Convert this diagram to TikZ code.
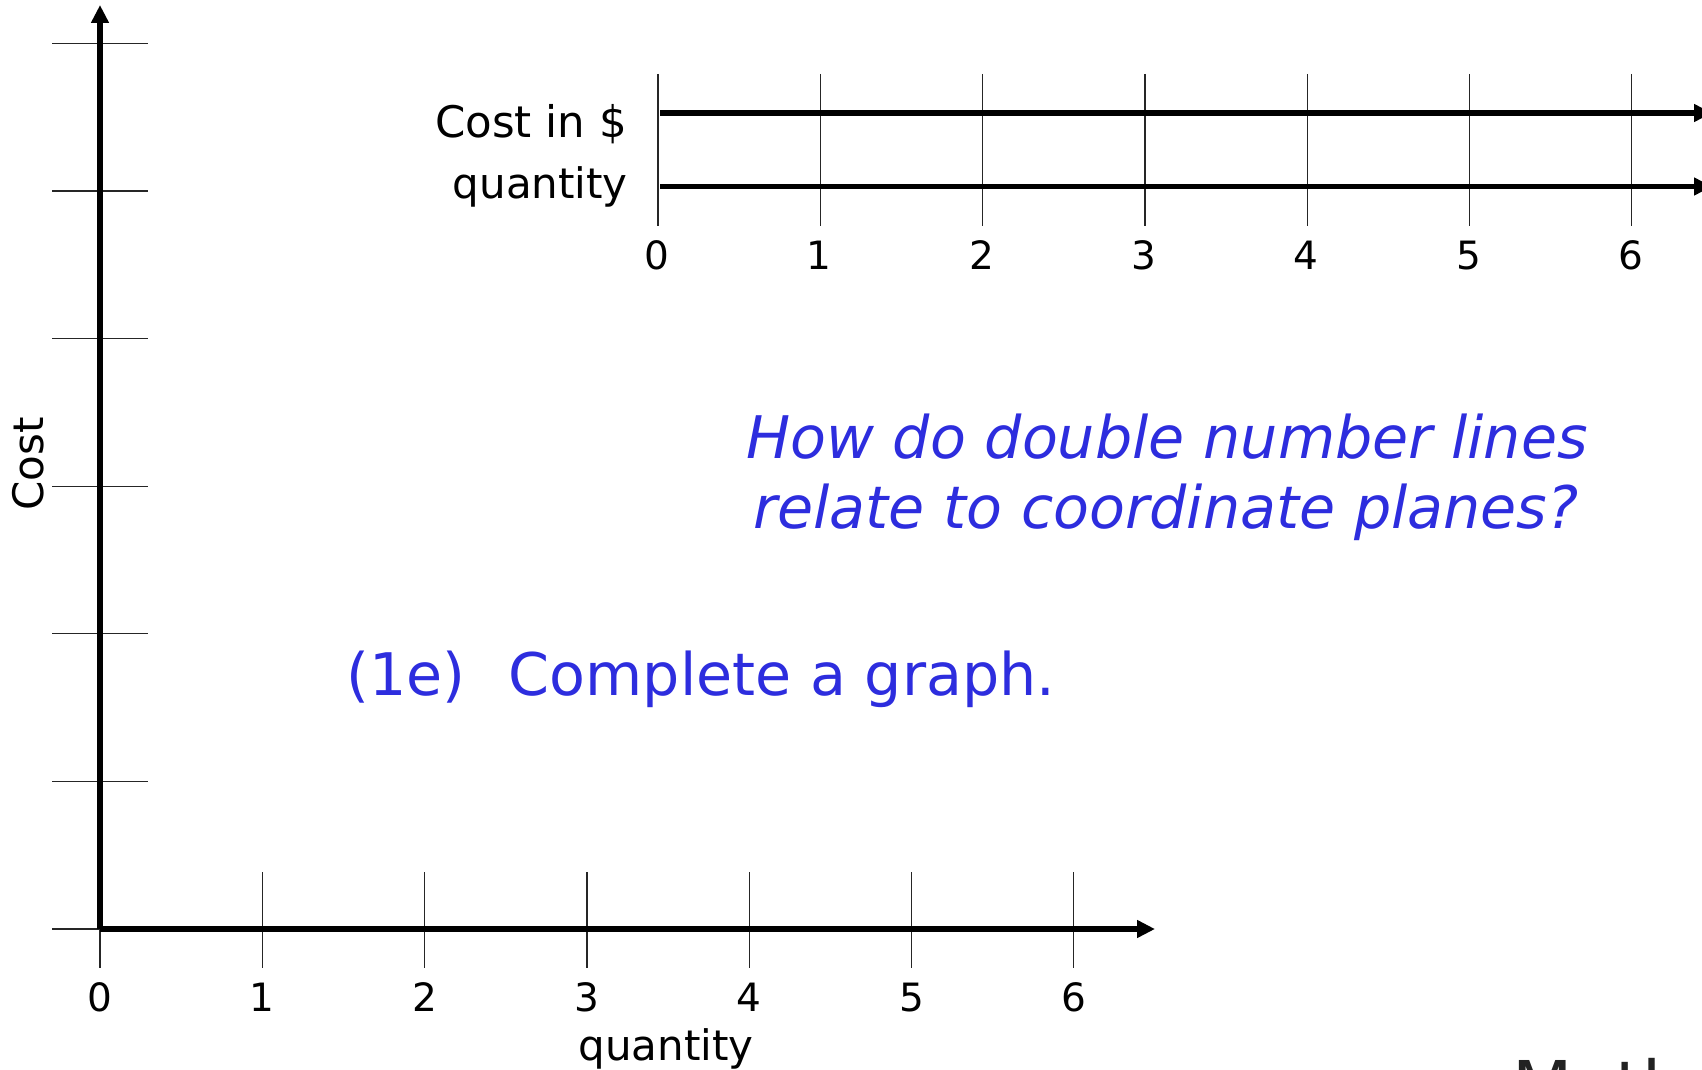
\documentclass[tikz,border=0pt]{standalone}
\usepackage{fontspec}
\setmainfont{DejaVu Sans}
\usetikzlibrary{arrows.meta}
\definecolor{qblue}{RGB}{45,45,222}
\definecolor{mathgray}{RGB}{34,34,34}
\begin{document}
\begin{tikzpicture}[x=1pt,y=-1pt,
  axisline/.style={line width=5.5pt,-{Triangle[length=18pt,width=17pt]}},
  numline/.style={line width=5.5pt,-{Triangle[length=18pt,width=17pt]}},
  tickline/.style={line width=1.3pt,draw=black!85},
  ticklab/.style={anchor=base,inner sep=0pt,font=\fontsize{39}{46}\selectfont},
  lab/.style={inner sep=0pt,font=\fontsize{42}{50}\selectfont},
  bluetxt/.style={inner sep=0pt,text=qblue}
]
\useasboundingbox (0,0) rectangle (1702,1070);
% ---- coordinate plane ----
\coordinate (O) at (100,929);
\coordinate (ytop) at (100,5);
\coordinate (xend) at (1155,929);
% horizontal grid ticks on y-axis
\foreach \i in {0,...,6} {
  \coordinate (yl\i) at (52,{929-147.6*\i});
  \coordinate (yr\i) at (148,{929-147.6*\i});
  \draw[tickline] (yl\i) -- (yr\i);
}
% vertical ticks on x-axis
\foreach \i in {0,...,6} {
  \coordinate (xt\i) at ({100+162.3*\i},872);
  \coordinate (xb\i) at ({100+162.3*\i},968);
  \draw[tickline] (xt\i) -- (xb\i);
  \node[ticklab] (xlab\i) at ({100+162.3*\i},1011) {\i};
}
\draw[axisline] (O) -- (ytop);
\draw[axisline] (O) -- (xend);
\node[lab,anchor=base] (xname) at (666,1060) {quantity};
\node[lab,anchor=base,rotate=90] (yname) at (43,464) {Cost};
% ---- double number line ----
\coordinate (c0) at (660,113);
\coordinate (c1) at (1712,113);
\coordinate (q0) at (660,186.5);
\coordinate (q1) at (1712,186.5);
\foreach \i in {0,...,6} {
  \coordinate (dt\i) at ({658+162.3*\i},74);
  \coordinate (db\i) at ({658+162.3*\i},226);
  \draw[tickline] (dt\i) -- (db\i);
  \node[ticklab] (dlab\i) at ({657+162.3*\i},269) {\i};
}
\draw[numline] (c0) -- (c1);
\draw[numline] (q0) -- (q1);
\node[lab,anchor=base east,font=\fontsize{43.5}{50}\selectfont] (costlab) at (627,138) {Cost in \$};
\node[lab,anchor=base east] (qtylab) at (628,198) {quantity};
% ---- blue texts ----
\node[bluetxt,anchor=base,font=\fontsize{58.7}{70}\selectfont\itshape] (q1txt) at (1167,458) {How do double number lines};
\node[bluetxt,anchor=base,font=\fontsize{58.7}{70}\selectfont\itshape] (q2txt) at (1166,528) {relate to coordinate planes?};
\node[bluetxt,anchor=base west,font=\fontsize{58.7}{70}\selectfont] (task) at (346,695) {(1e)\ \ \hspace{6pt}Complete a graph.};
% ---- cut-off title ----
\node[inner sep=0pt,anchor=base west,text=mathgray,font=\fontsize{70}{84}\selectfont] (mathtxt) at (1512,1111) {Math};
\end{tikzpicture}
\end{document}
